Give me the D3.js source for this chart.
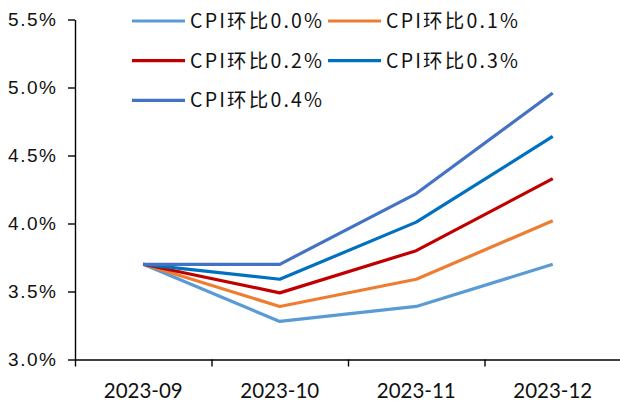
<!DOCTYPE html>
<html lang="zh">
  <head>
    <meta charset="UTF-8" />
    <title>CPI环比情景</title>
    <style>
      body { margin: 0; background: #fff; }
      svg { display: block; }
    </style>
  </head>
  <body>
    <svg width="620" height="403"></svg>

    <script src="https://d3js.org/d3.v7.min.js"></script>
    <script>
      (function () {
        "use strict";

        // 数据
        var months = ["2023-09", "2023-10", "2023-11", "2023-12"];
        var seriesNames = ["CPI环比0.0%", "CPI环比0.1%", "CPI环比0.2%", "CPI环比0.3%", "CPI环比0.4%"];
        var cpi00 = [3.70, 3.28, 3.39, 3.70];
        var cpi01 = [3.70, 3.39, 3.59, 4.02];
        var cpi02 = [3.70, 3.49, 3.80, 4.33];
        var cpi03 = [3.70, 3.59, 4.01, 4.64];
        var cpi04 = [3.70, 3.70, 4.22, 4.96];
        var yTicks = [3.0, 3.5, 4.0, 4.5, 5.0, 5.5];

        var allSeries = [cpi00, cpi01, cpi02, cpi03, cpi04];
        var colors = ["#5B9BD5", "#ED7D31", "#C00000", "#0070C0", "#4472C4"];

        var svg = d3.select("svg");
        var LEFT = 75, RIGHT = 621, TOP = 19.5, BOTTOM = 359.5;

        var x = d3.scaleBand().domain(months).range([LEFT, RIGHT]);
        var y = d3.scaleLinear().domain([3.0, 5.5]).range([BOTTOM, TOP]);

        // y轴
        var gy = svg.append("g")
          .attr("transform", "translate(" + LEFT + ",0)")
          .call(d3.axisLeft(y).tickValues(yTicks).tickSize(7).tickSizeOuter(0)
            .tickFormat(function (d) { return d.toFixed(1) + "%"; }));
        gy.selectAll("path, line").attr("stroke", "#000").attr("stroke-width", 1.4);
        gy.selectAll("text")
          .attr("x", -19)
          .attr("fill", "#111")
          .style("font-family", "'Liberation Sans', Arial, sans-serif")
          .style("font-size", "19px")
          .attr("textLength", 48)
          .attr("lengthAdjust", "spacing");

        // x轴 刻度线（类别边界）
        var edge = d3.scaleLinear().domain([0, months.length]).range([LEFT, RIGHT]);
        var gxTicks = svg.append("g")
          .attr("transform", "translate(0," + BOTTOM + ")")
          .call(d3.axisBottom(edge).ticks(months.length).tickSize(7).tickSizeOuter(0).tickFormat(""));
        gxTicks.selectAll("path, line").attr("stroke", "#000").attr("stroke-width", 1.4);

        // x轴 标签
        var gx = svg.append("g")
          .attr("transform", "translate(0," + BOTTOM + ")")
          .call(d3.axisBottom(x).tickSize(0));
        gx.select(".domain").remove();
        gx.selectAll("text")
          .attr("dy", 0)
          .attr("y", 38)
          .attr("fill", "#111")
          .style("font-family", "Lato, 'Open Sans', sans-serif")
          .style("font-size", "20.5px");

        // 折线
        var line = d3.line()
          .x(function (d, i) { return x(months[i]) + x.bandwidth() / 2; })
          .y(function (d) { return y(d); });

        svg.append("g").selectAll("path.series")
          .data(allSeries)
          .enter()
          .append("path")
          .attr("class", "series")
          .attr("d", line)
          .attr("fill", "none")
          .attr("stroke", function (d, i) { return colors[i]; })
          .attr("stroke-width", 3.2)
          .attr("stroke-linejoin", "round");

        // 图例
        var legend = svg.append("g").selectAll("g.item")
          .data(seriesNames)
          .enter()
          .append("g")
          .attr("class", "item")
          .attr("transform", function (d, i) {
            return "translate(" + (132 + (i % 2) * 196) + "," + (21 + Math.floor(i / 2) * 39.7) + ")";
          });

        legend.append("line")
          .attr("x1", 0).attr("x2", 53)
          .attr("stroke", function (d, i) { return colors[i]; })
          .attr("stroke-width", 3.2);

        legend.append("text")
          .attr("x", 58)
          .attr("dy", "0.36em")
          .attr("fill", "#111")
          .style("font-family", "'Noto Sans CJK SC', sans-serif")
          .style("font-size", "19.5px")
          .attr("textLength", 132)
          .attr("lengthAdjust", "spacing")
          .text(function (d) { return d; });
      })();
    </script>
  </body>
</html>
